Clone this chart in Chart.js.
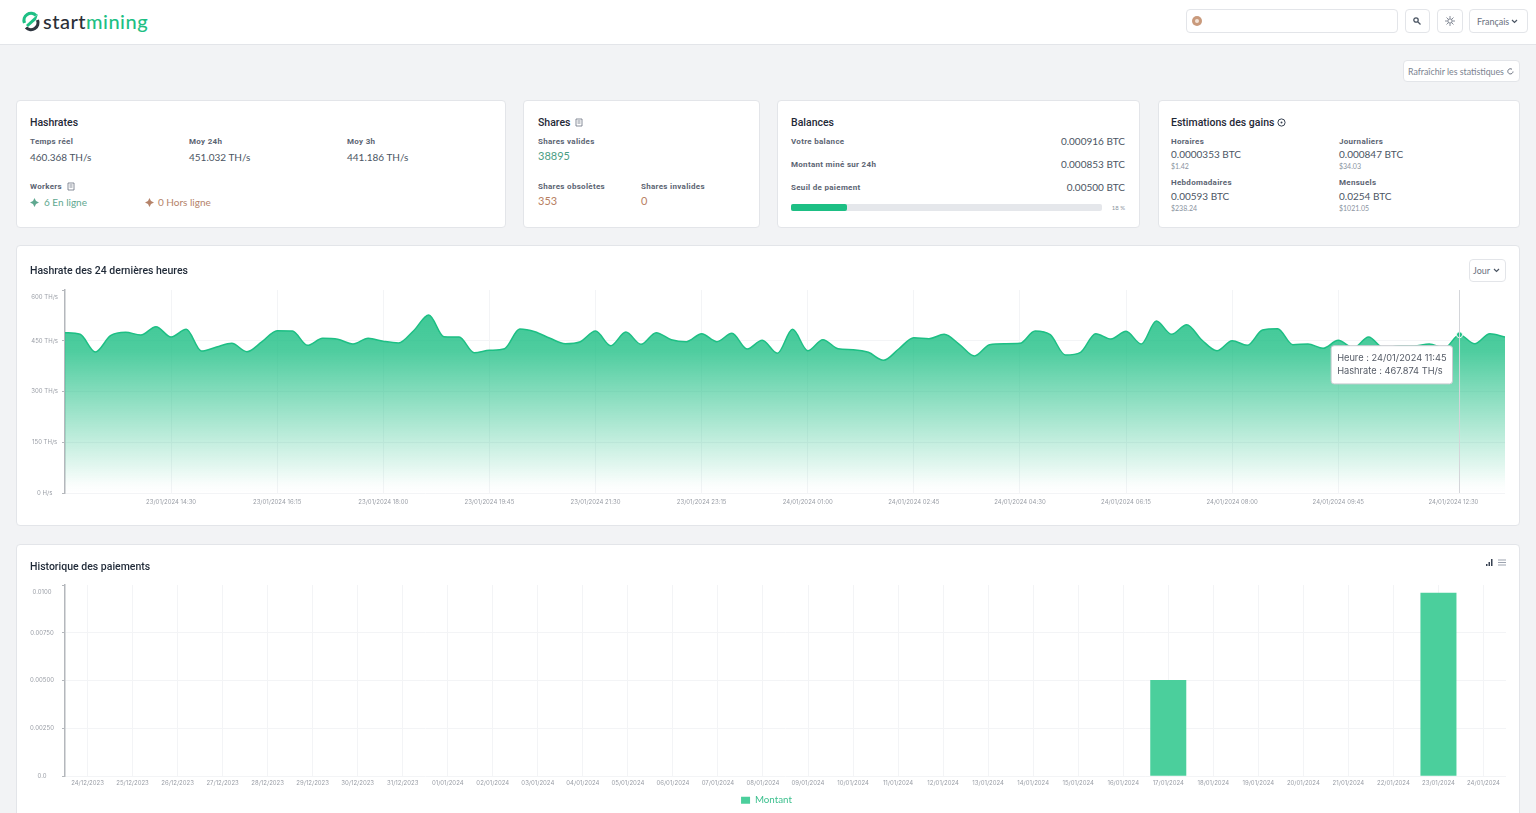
<!DOCTYPE html>
<html>
  <head>
    <title>Startmining</title>
    <meta charset="utf-8">
    <style>
      html, body { margin: 0; height: 100%; overflow: hidden; background: #f2f3f5; font-family: Lato, sans-serif; color: #4b5563; }
      .box { position: absolute; background: #fff; border: 1px solid #e3e5e9; border-radius: 4px; box-sizing: border-box; }
      .t { position: absolute; white-space: nowrap; transform: translateY(-50%); }
      .h { font: 500 10.5px Roboto, sans-serif; color: #1f2937; }
      .l { font: 700 8px Roboto, sans-serif; color: #5b6472; letter-spacing: .3px; }
      .v { font-size: 10px; color: #4b5563; margin-top: -1px; }
      .s { font-size: 7px; color: #8a93a0; }
      .r { text-align: right; }
      canvas { position: absolute; }
      svg { position: absolute; }
    </style>
  </head>
  <body>
    <div style="position:absolute;left:0;top:0;width:1536px;height:44px;background:#fff;border-bottom:1px solid #e3e5e9"></div>
    <svg style="left:21px;top:11px" width="20" height="21" viewBox="0 0 20 21">
      <path d="M3.5 12 A7 7 0 0 1 15 4.5" fill="none" stroke="#1dbf84" stroke-width="3.2"/>
      <path d="M16.5 9 A7 7 0 0 1 5 16.5" fill="none" stroke="#2f3640" stroke-width="3.2"/>
      <path d="M5 14 L17 3 L15 9 L7 16 Z" fill="#1dbf84"/>
    </svg>
    <div class="t" style="left:43px;top:21px;font:500 20px Lato,sans-serif;letter-spacing:.5px"><span style="color:#2b3038">start</span><span style="color:#1dbf84">mining</span></div>

    <div class="box" style="left:1186px;top:9px;width:212px;height:24px"></div>
    <svg style="left:1192px;top:16px" width="10" height="10"><circle cx="5" cy="5" r="5" fill="#c99a7c"/><circle cx="5" cy="5" r="2" fill="#f3e4d9"/></svg>
    <div class="box" style="left:1405px;top:9px;width:25px;height:24px"></div>
    <svg style="left:1413px;top:17px" width="8" height="8"><circle cx="3" cy="3" r="2.2" fill="none" stroke="#4b5563" stroke-width="1.3"/><path d="M5 5 L7.5 7.5" stroke="#4b5563" stroke-width="1.3"/></svg>
    <div class="box" style="left:1437px;top:9px;width:26px;height:24px"></div>
    <svg style="left:1445px;top:16px" width="10" height="10"><circle cx="5" cy="5" r="2.2" fill="none" stroke="#6b7280"/><path d="M5 0V2M5 8V10M0 5H2M8 5H10M1.5 1.5L3 3M7 7L8.5 8.5M8.5 1.5L7 3M3 7L1.5 8.5" stroke="#6b7280" stroke-width=".8"/></svg>
    <div class="box" style="left:1469px;top:9px;width:59px;height:24px"></div>
    <div class="t" style="left:1477px;top:21px;font-size:9px;color:#6b7280">Français</div>
    <svg style="left:1511px;top:19px" width="7" height="5"><path d="M1 1L3.5 3.5L6 1" fill="none" stroke="#4b5563" stroke-width="1.2"/></svg>

    <div class="box" style="left:1403px;top:60px;width:117px;height:22px"></div>
    <div class="t" style="left:1408px;top:70.5px;font-size:8.8px;color:#7b8390">Rafraîchir les statistiques</div>
    <svg style="left:1507px;top:68px" width="7" height="7"><path d="M6 3.5A2.6 2.6 0 1 1 5 1.3" fill="none" stroke="#6b7280"/></svg>

    <div class="box" style="left:16px;top:100px;width:490px;height:128px"></div>
    <div class="t h" style="left:30px;top:122px">Hashrates</div>
    <div class="t l" style="left:30px;top:141px">Temps réel</div>
    <div class="t l" style="left:189px;top:141px">Moy 24h</div>
    <div class="t l" style="left:347px;top:141px">Moy 3h</div>
    <div class="t v" style="left:30px;top:158px">460.368 TH/s</div>
    <div class="t v" style="left:189px;top:158px">451.032 TH/s</div>
    <div class="t v" style="left:347px;top:158px">441.186 TH/s</div>
    <div class="t l" style="left:30px;top:186px">Workers</div>
    <svg style="left:67px;top:182px" width="9" height="9"><path d="M1 1H7V8H1ZM2.5 3H5.5M2.5 5H5.5" fill="none" stroke="#6b7280" stroke-width=".8"/></svg>
    <svg style="left:30px;top:198px" width="9" height="9"><path d="M4.5 0L6 3L9 4.5L6 6L4.5 9L3 6L0 4.5L3 3Z" fill="#5fa890"/></svg>
    <div class="t v" style="left:44px;top:203px;color:#5fa890">6 En ligne</div>
    <svg style="left:145px;top:198px" width="9" height="9"><path d="M4.5 0L6 3L9 4.5L6 6L4.5 9L3 6L0 4.5L3 3Z" fill="#b5836a"/></svg>
    <div class="t v" style="left:158px;top:203px;color:#b5836a">0 Hors ligne</div>

    <div class="box" style="left:523px;top:100px;width:237px;height:128px"></div>
    <div class="t h" style="left:538px;top:122px">Shares</div>
    <svg style="left:575px;top:118px" width="9" height="9"><path d="M1 1H7V8H1ZM2.5 3H5.5M2.5 5H5.5" fill="none" stroke="#6b7280" stroke-width=".8"/></svg>
    <div class="t l" style="left:538px;top:141px">Shares valides</div>
    <div class="t v" style="left:538px;top:156px;font-size:11px;color:#4a9d83">38895</div>
    <div class="t l" style="left:538px;top:186px">Shares obsolètes</div>
    <div class="t l" style="left:641px;top:186px">Shares invalides</div>
    <div class="t v" style="left:538px;top:201px;font-size:11px;color:#b87f63">353</div>
    <div class="t v" style="left:641px;top:201px;font-size:11px;color:#b87f63">0</div>

    <div class="box" style="left:777px;top:100px;width:363px;height:128px"></div>
    <div class="t h" style="left:791px;top:122px">Balances</div>
    <div class="t l" style="left:791px;top:141px">Votre balance</div>
    <div class="t l" style="left:791px;top:164px">Montant miné sur 24h</div>
    <div class="t l" style="left:791px;top:187px">Seuil de paiement</div>
    <div class="t v r" style="right:411px;top:142px">0.000916 BTC</div>
    <div class="t v r" style="right:411px;top:165px">0.000853 BTC</div>
    <div class="t v r" style="right:411px;top:188px">0.00500 BTC</div>
    <div style="position:absolute;left:791px;top:204px;width:311px;height:7px;background:#e5e7eb;border-radius:2px"></div>
    <div style="position:absolute;left:791px;top:204px;width:56px;height:7px;background:#1dbf84;border-radius:2px"></div>
    <div class="t s r" style="right:411px;top:207px;font-size:6px">18 %</div>

    <div class="box" style="left:1158px;top:100px;width:362px;height:128px"></div>
    <div class="t h" style="left:1171px;top:122px">Estimations des gains</div>
    <svg style="left:1277px;top:118px" width="9" height="9"><circle cx="4.5" cy="4.5" r="3.6" fill="none" stroke="#374151"/><circle cx="4.5" cy="4.5" r="1" fill="#374151"/></svg>
    <div class="t l" style="left:1171px;top:141px">Horaires</div>
    <div class="t v" style="left:1171px;top:155px">0.0000353 BTC</div>
    <div class="t s" style="left:1171px;top:166px">$1.42</div>
    <div class="t l" style="left:1339px;top:141px">Journaliers</div>
    <div class="t v" style="left:1339px;top:155px">0.000847 BTC</div>
    <div class="t s" style="left:1339px;top:166px">$34.03</div>
    <div class="t l" style="left:1171px;top:182px">Hebdomadaires</div>
    <div class="t v" style="left:1171px;top:197px">0.00593 BTC</div>
    <div class="t s" style="left:1171px;top:208px">$238.24</div>
    <div class="t l" style="left:1339px;top:182px">Mensuels</div>
    <div class="t v" style="left:1339px;top:197px">0.0254 BTC</div>
    <div class="t s" style="left:1339px;top:208px">$1021.05</div>

    <div class="box" style="left:16px;top:245px;width:1504px;height:281px"></div>
    <canvas id="hashrateChart" width="1504" height="281" style="left:16px;top:245px"></canvas>
    <div class="t h" style="left:30px;top:270px">Hashrate des 24 dernières heures</div>
    <div class="box" style="left:1469px;top:259px;width:37px;height:23px"></div>
    <div class="t" style="left:1473px;top:270px;font-size:9px;color:#6b7280">Jour</div>
    <svg style="left:1493px;top:268px" width="7" height="5"><path d="M1 1L3.5 3.5L6 1" fill="none" stroke="#4b5563" stroke-width="1.2"/></svg>

    <div class="box" style="left:16px;top:544px;width:1504px;height:300px"></div>
    <canvas id="payoutChart" width="1504" height="280" style="left:16px;top:544px"></canvas>
    <div class="t h" style="left:30px;top:566px">Historique des paiements</div>
    <svg style="left:1486px;top:559px" width="8" height="7"><path d="M0 5H1.5V7H0ZM2.5 3H4V7H2.5ZM5 0H6.5V7H5Z" fill="#374151"/></svg>
    <svg style="left:1498px;top:559px" width="8" height="7"><path d="M0 1H8M0 3.5H8M0 6H8" stroke="#9ca3af"/></svg>

    <script src="https://cdn.jsdelivr.net/npm/chart.js@4/dist/chart.umd.min.js"></script>
    <script>
      // hashrate, one value every 15 minutes
      var hashrateValues = [
        473.8, 469.1, 416.7, 464.9, 475, 467, 491.5, 461, 483.8, 419.7, 431.5, 442.5,
        417.6, 447.2, 479.7, 478.8, 436.6, 457.2, 454.3, 440.4, 457.2, 448.4, 443.4, 479.7,
        526.1, 462, 461, 414.7, 421.8, 426.5, 484.7, 476.8, 457.2, 441.3, 447.2, 478.8,
        435.4, 475.9, 439.5, 473.8, 453.1, 447.2, 470.8, 447.2, 472, 425.6, 451.3, 412.9,
        483.8, 420.6, 453.1, 426.5, 423.5, 415.9, 392.2, 425.6, 459, 456.1, 469.1, 439.5,
        404.9, 438.3, 441.3, 442.5, 478.8, 467.9, 407.9, 415.9, 470.8, 455.2, 477.9, 440.4,
        508.4, 469.1, 497.4, 452.2, 420.6, 450.1, 436.6, 481.8, 485.6, 438.3, 440.4, 427.7,
        451.3, 428.6, 461.1, 428.6, 434.5, 434.5, 440.4, 428.6, 467.874, 441.3, 470.8, 461.1
      ];
      var hashrateTickIndex = [7, 14, 21, 28, 35, 42, 49, 56, 63, 70, 77, 84, 91.6];
      var hashrateTickLabels = [
        "23/01/2024 14:30", "23/01/2024 16:15", "23/01/2024 18:00", "23/01/2024 19:45",
        "23/01/2024 21:30", "23/01/2024 23:15", "24/01/2024 01:00", "24/01/2024 02:45",
        "24/01/2024 04:30", "24/01/2024 06:15", "24/01/2024 08:00", "24/01/2024 09:45",
        "24/01/2024 12:30"
      ];
      var hashrateYLabels = ["0 H/s", "150 TH/s", "300 TH/s", "450 TH/s", ["", "600 TH/s"]];
      var hoverIndex = 92;
      var hoverTime = "24/01/2024 11:45";

      var payoutDates = [
        "24/12/2023", "25/12/2023", "26/12/2023", "27/12/2023", "28/12/2023", "29/12/2023",
        "30/12/2023", "31/12/2023", "01/01/2024", "02/01/2024", "03/01/2024", "04/01/2024",
        "05/01/2024", "06/01/2024", "07/01/2024", "08/01/2024", "09/01/2024", "10/01/2024",
        "11/01/2024", "12/01/2024", "13/01/2024", "14/01/2024", "15/01/2024", "16/01/2024",
        "17/01/2024", "18/01/2024", "19/01/2024", "20/01/2024", "21/01/2024", "22/01/2024",
        "23/01/2024", "24/01/2024"
      ];
      var payoutValues = [
        0, 0, 0, 0, 0, 0, 0, 0, 0, 0, 0, 0, 0, 0, 0, 0,
        0, 0, 0, 0, 0, 0, 0, 0, 0.00503, 0, 0, 0, 0, 0, 0.0096, 0
      ];
      var payoutYLabels = ["0.0", "0.00250", "0.00500", "0.00750", ["", "0.0100"]];

      var yTickFont = { family: "Inter", size: 6, lineHeight: "14px" };
      var xTickFont = { family: "Inter", size: 6, lineHeight: "10px" };
      var tickColor = "#9a9ea6";
      var gridColor = "#f3f4f6";
      var axisColor = "#b4b7bc";

      // the top line of the grid is not drawn
      function yGridColor(ctx) {
        return ctx.index === 4 ? "transparent" : gridColor;
      }

      Chart.Tooltip.positioners.besidePoint = function (items) {
        if (!items.length) return false;
        return { x: items[0].element.x - 10, y: items[0].element.y + 11 };
      };

      // vertical line under the tooltip
      var crosshair = {
        id: "crosshair",
        afterDatasetsDraw: function (chart) {
          var active = chart.tooltip.getActiveElements();
          if (!active.length) return;
          var c = chart.ctx, area = chart.chartArea;
          c.save();
          c.strokeStyle = "#d4d6da";
          c.lineWidth = 1;
          c.beginPath();
          c.moveTo(active[0].element.x, area.top);
          c.lineTo(active[0].element.x, area.bottom);
          c.stroke();
          c.restore();
        }
      };

      function fillGradient(context) {
        var area = context.chart.chartArea;
        if (!area) return "#45c998";
        var g = context.chart.ctx.createLinearGradient(0, area.top, 0, area.bottom);
        g.addColorStop(0, "rgba(29,191,132,0.9)");
        g.addColorStop(0.3, "rgba(29,191,132,0.78)");
        g.addColorStop(0.96, "rgba(29,191,132,0.02)");
        g.addColorStop(1, "rgba(29,191,132,0)");
        return g;
      }

      var hashrateChart = new Chart(document.getElementById("hashrateChart"), {
        type: "line",
        data: {
          datasets: [{
            label: "Hashrate",
            data: hashrateValues.map(function (v, i) { return { x: i, y: v }; }),
            borderColor: "#1dbf84",
            borderWidth: 1.5,
            backgroundColor: fillGradient,
            fill: true,
            cubicInterpolationMode: "monotone",
            pointRadius: function (ctx) { return ctx.dataIndex === hoverIndex ? 3 : 0; },
            pointHoverRadius: 3,
            pointBackgroundColor: "#1dbf84",
            pointBorderColor: "#fff",
            pointBorderWidth: 1
          }]
        },
        options: {
          responsive: false,
          animation: false,
          events: [],
          layout: { padding: { top: 45, right: 15 } },
          plugins: {
            legend: { display: false },
            tooltip: {
              position: "besidePoint",
              xAlign: "right",
              yAlign: "top",
              caretSize: 0,
              caretPadding: 0,
              displayColors: false,
              backgroundColor: "#fff",
              borderColor: "#c9ccd1",
              borderWidth: 1,
              cornerRadius: 3,
              padding: { x: 6, y: 7 },
              bodyColor: "#555b66",
              bodyFont: { family: "Inter", size: 9.25 },
              bodySpacing: 2,
              callbacks: {
                title: function () { return ""; },
                label: function (item) {
                  return ["Heure : " + hoverTime, "Hashrate : " + item.parsed.y.toFixed(3) + " TH/s"];
                }
              }
            }
          },
          scales: {
            x: {
              type: "linear",
              min: 0,
              max: 95,
              afterBuildTicks: function (axis) {
                axis.ticks = hashrateTickIndex.map(function (v) { return { value: v }; });
              },
              afterFit: function (axis) { axis.height = 33; },
              border: { display: false },
              grid: {
                drawTicks: false,
                color: function (ctx) { return ctx.index === hashrateTickIndex.length - 1 ? "transparent" : gridColor; }
              },
              ticks: {
                autoSkip: false,
                maxRotation: 0,
                padding: 4,
                color: tickColor,
                font: xTickFont,
                callback: function (v, i) { return hashrateTickLabels[i]; }
              }
            },
            y: {
              min: 0,
              max: 600,
              afterFit: function (axis) { axis.width = 49; },
              border: { color: axisColor, width: 1.5 },
              grid: { color: yGridColor, tickLength: 3, tickColor: axisColor },
              ticks: {
                stepSize: 150,
                padding: 4,
                crossAlign: "center",
                color: tickColor,
                font: yTickFont,
                callback: function (v, i) { return hashrateYLabels[i]; }
              }
            }
          }
        },
        plugins: [crosshair]
      });
      hashrateChart.tooltip.setActiveElements([{ datasetIndex: 0, index: hoverIndex }], { x: 0, y: 0 });
      hashrateChart.update();

      new Chart(document.getElementById("payoutChart"), {
        type: "bar",
        data: {
          labels: payoutDates,
          datasets: [{
            label: "Montant",
            data: payoutValues,
            backgroundColor: "#4bcf9c",
            borderColor: "#4bcf9c",
            categoryPercentage: 0.8,
            barPercentage: 1
          }]
        },
        options: {
          responsive: false,
          animation: false,
          events: [],
          layout: { padding: { left: 11, top: 41, right: 14, bottom: 9 } },
          plugins: {
            tooltip: { enabled: false },
            legend: {
              position: "bottom",
              labels: {
                boxWidth: 9,
                boxHeight: 7,
                padding: 1,
                color: "#3ec08f",
                font: { family: "Lato", size: 9.75 }
              }
            }
          },
          scales: {
            x: {
              afterFit: function (axis) { axis.height = 18; },
              border: { display: false },
              grid: { offset: false, drawTicks: false, color: gridColor },
              ticks: { autoSkip: false, maxRotation: 0, padding: 2, color: tickColor, font: xTickFont }
            },
            y: {
              min: 0,
              max: 0.01,
              afterFit: function (axis) { axis.width = 38; },
              border: { color: axisColor, width: 1.5 },
              grid: { color: yGridColor, tickLength: 3, tickColor: axisColor },
              ticks: {
                stepSize: 0.0025,
                padding: 8,
                crossAlign: "center",
                color: tickColor,
                font: yTickFont,
                callback: function (v, i) { return payoutYLabels[i]; }
              }
            }
          }
        }
      });
    </script>
  </body>
</html>
